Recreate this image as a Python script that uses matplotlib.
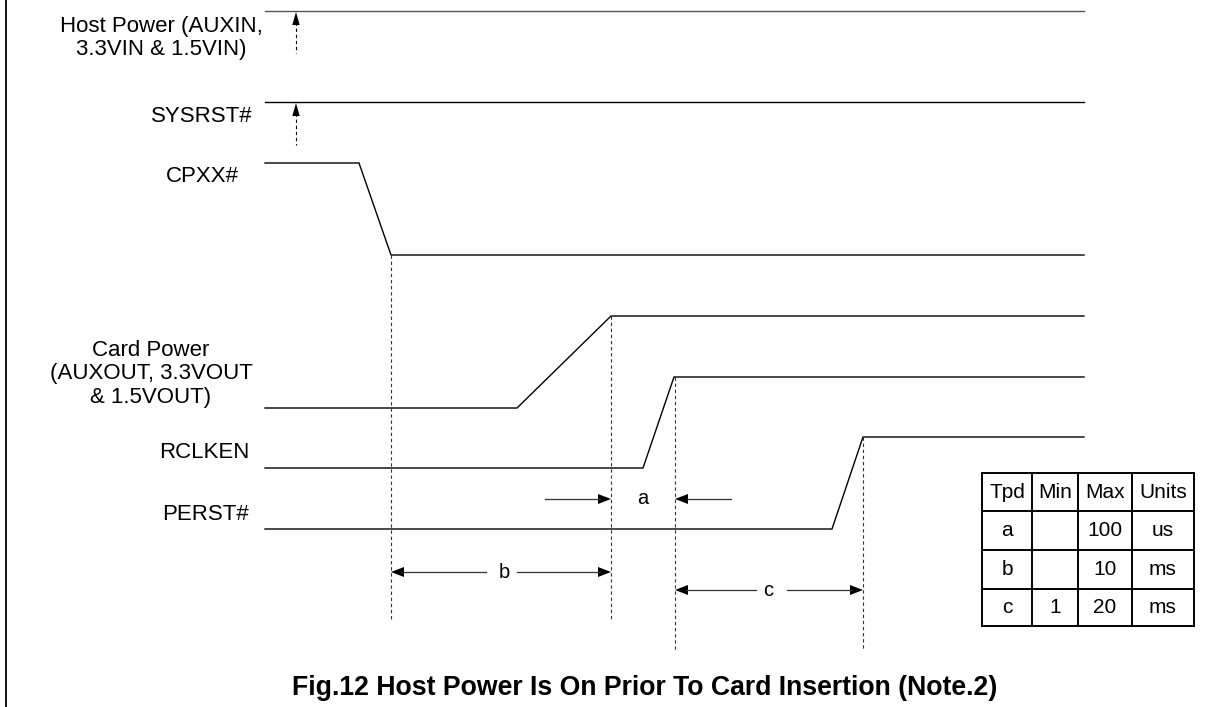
import matplotlib
matplotlib.use("Agg")
import matplotlib.pyplot as plt
from matplotlib.patches import Polygon

plt.rcParams['font.family'] = ['Liberation Sans', 'DejaVu Sans']

# ---- data (diagram units ~ pixels) ----
signal_names = ["Host Power (AUXIN,\n3.3VIN & 1.5VIN)", "SYSRST#", "CPXX#",
                "Card Power\n(AUXOUT, 3.3VOUT\n& 1.5VOUT)", "RCLKEN", "PERST#"]
# waveform breakpoints (time, level-y)
wave_x = [
    [265, 1084],
    [265, 1084],
    [265, 359, 391, 1084],
    [265, 517, 611, 1084],
    [265, 643, 674, 1084],
    [265, 832, 863, 1084],
]
wave_y = [
    [11, 11],
    [102, 102],
    [163, 163, 255, 255],
    [408, 408, 316, 316],
    [468, 468, 377, 377],
    [529, 529, 437, 437],
]
label_x = [161, 202, 202, 151, 204, 205]
label_y = [38, 116, 177, 374, 452, 514]

# timing markers
marker_x = [391, 611, 675, 863]
marker_top = [255, 316, 377, 437]
marker_bottom = [620, 620, 650, 650]

table_header = ["Tpd", "Min", "Max", "Units"]
table_rows = [["a", "", "100", "us"],
              ["b", "", "10", "ms"],
              ["c", "1", "20", "ms"]]

title = "Fig.12 Host Power Is On Prior To Card Insertion (Note.2)"

# ---- drawing ----
fig = plt.figure(figsize=(12.13, 7.07), dpi=100)
ax = fig.add_axes([0, 0, 1, 1])
ax.set_xlim(0, 1213)
ax.set_ylim(707, 0)
ax.axis("off")

LFS = 16

# left frame line
ax.plot([6, 6], [0, 707], color="black", lw=1.3)

for i, (xs, ys) in enumerate(zip(wave_x, wave_y)):
    col = "#555555" if i == 0 else "black"
    ax.plot(xs, ys, color=col, lw=1.0, solid_joinstyle="miter")
    ax.text(label_x[i], label_y[i], signal_names[i], ha="center", va="center",
            fontsize=LFS, linespacing=1.18)

# upward dashed arrows for host power and sysrst
for ytop, ybot in [(11, 53), (102, 145)]:
    ax.plot([296, 296], [ytop + 11, ybot], color="black", lw=0.8,
            linestyle=(0, (3, 2.5)))
    ax.add_patch(Polygon([[296, ytop + 1], [292.3, ytop + 14], [299.7, ytop + 14]],
                         closed=True, color="black", lw=0))

# vertical dashed markers
for mx, mt, mb in zip(marker_x, marker_top, marker_bottom):
    ax.plot([mx, mx], [mt, mb], color="#333333", lw=0.8, linestyle=(0, (3, 2.5)))


def head(x_tip, y, direction):
    L, W = 13, 5
    ax.add_patch(Polygon([[x_tip, y], [x_tip - direction * L, y - W],
                          [x_tip - direction * L, y + W]],
                         closed=True, color="black", lw=0))


def seg(x0, x1, y):
    ax.plot([x0, x1], [y, y], color="#333333", lw=0.9)


AFS = 14.5
# a
ya = 499
seg(545, 600, ya); head(611, ya, +1)
ax.text(643, ya, "a", ha="center", va="center", fontsize=AFS)
seg(687, 731, ya); head(675, ya, -1)
# b
yb = 572
seg(402, 486, yb); head(391, yb, -1)
ax.text(504, yb, "b", ha="center", va="center", fontsize=AFS)
seg(517, 600, yb); head(611, yb, +1)
# c
yc = 590
seg(686, 756, yc); head(675, yc, -1)
ax.text(768, yc, "c", ha="center", va="center", fontsize=AFS)
seg(787, 852, yc); head(863, yc, +1)

# table
col_edges = [982, 1032, 1078, 1132, 1194]
row_edges = [473, 511, 550, 589, 626]
for xe in col_edges:
    ax.plot([xe, xe], [row_edges[0], row_edges[-1]], color="black", lw=1.4)
for ye in row_edges:
    ax.plot([col_edges[0], col_edges[-1]], [ye, ye], color="black", lw=1.4)
all_rows = [table_header] + table_rows
for r, row in enumerate(all_rows):
    yc_ = (row_edges[r] + row_edges[r + 1]) / 2
    for c, val in enumerate(row):
        xc_ = (col_edges[c] + col_edges[c + 1]) / 2
        ax.text(xc_, yc_, val, ha="center", va="center", fontsize=15)

ax.text(645, 688, title, ha="center", va="center", fontsize=19.2,
        fontweight="bold")

fig.savefig("out.png", dpi=100)
